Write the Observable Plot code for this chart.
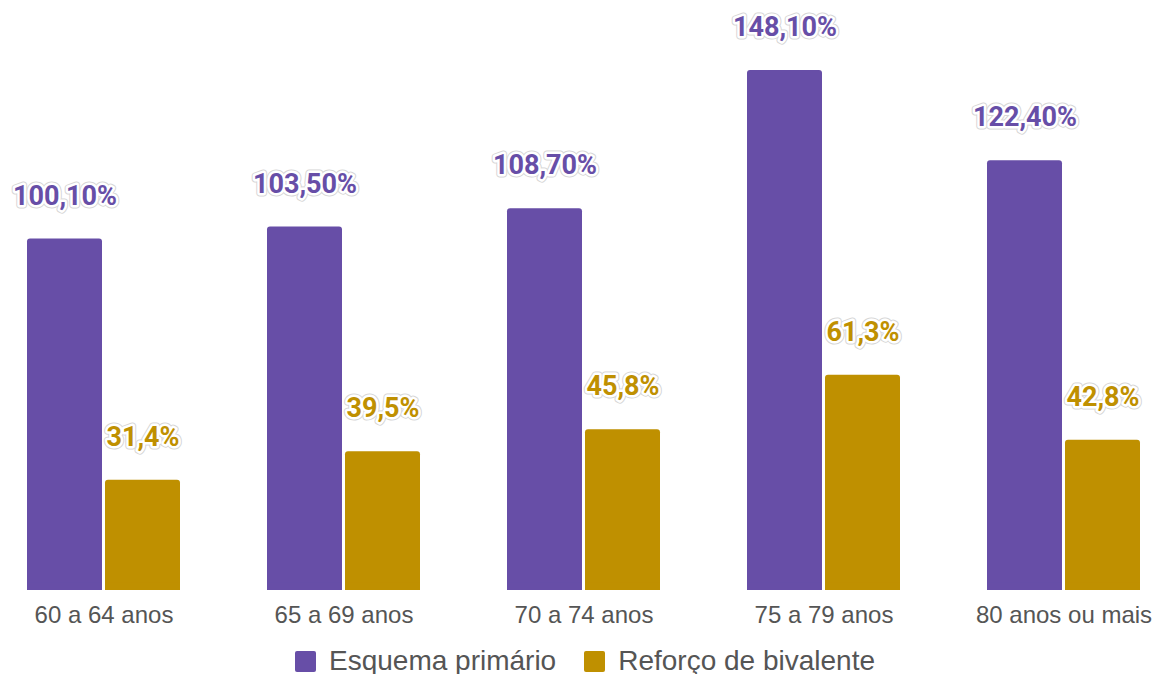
<!DOCTYPE html>
<html>
<head>
<meta charset="utf-8">
<script src="https://cdn.jsdelivr.net/npm/d3@7"></script>
<script src="https://cdn.jsdelivr.net/npm/@observablehq/plot@0.6"></script>
<style>
  html, body { margin: 0; padding: 0; background: #fff; }
  #chart { width: 1156px; }
  #legend { display: flex; justify-content: center; align-items: center; height: 38px; padding-top: 6px; font-family: "Liberation Sans", Arial, sans-serif; font-size: 28px; color: #555; padding-left: 14px; }
  .item { display: flex; align-items: center; margin: 0 14px; }
  .sw { width: 21px; height: 21px; border-radius: 2px; margin-right: 13px; }
</style>
</head>
<body>
<div id="chart"></div>
<div id="legend"></div>
<script>
const groups = ["60 a 64 anos", "65 a 69 anos", "70 a 74 anos", "75 a 79 anos", "80 anos ou mais"];
const series = ["Esquema primário", "Reforço de bivalente"];
const primario = [100.1, 103.5, 108.7, 148.1, 122.4];
const reforco = [31.4, 39.5, 45.8, 61.3, 42.8];
const primarioLabels = ["100,10%", "103,50%", "108,70%", "148,10%", "122,40%"];
const reforcoLabels = ["31,4%", "39,5%", "45,8%", "61,3%", "42,8%"];
const colors = ["#674ea7", "#bf9000"];

const data = [];
groups.forEach((g, i) => {
  data.push({group: g, series: series[0], value: primario[i], label: primarioLabels[i]});
  data.push({group: g, series: series[1], value: reforco[i], label: reforcoLabels[i]});
});

const labelFont = {fontFamily: "Roboto, sans-serif", fontWeight: "bold", fontSize: 27};

const chart = Plot.plot({
  width: 1156,
  height: 636,
  marginTop: 70,
  marginBottom: 46,
  marginLeft: 26,
  marginRight: 16,
  fx: {domain: groups, paddingInner: 0.364, paddingOuter: 0, label: null},
  x: {domain: series, paddingInner: 0.04, paddingOuter: 0, axis: null},
  y: {domain: [0, 148.1], axis: null},
  color: {domain: series, range: colors},
  marks: [
    Plot.barY(data, {fx: "group", x: "series", y: "value", fill: "series", rx: 3}),
    Plot.barY(data, {fx: "group", x: "series", y1: 0, y2: d => Math.min(d.value, 2), fill: "series"}),
    Plot.text(data, {fx: "group", x: "series", y: "value", text: "label", dy: -43, fill: "series",
      stroke: "#d6d6d6", strokeWidth: 7, ...labelFont}),
    Plot.text(data, {fx: "group", x: "series", y: "value", text: "label", dy: -43, fill: "series",
      stroke: "white", strokeWidth: 5, ...labelFont}),
    Plot.axisFx({anchor: "bottom", tickSize: 0, tickPadding: 15, fontSize: 24, fill: "#555", label: null,
      fontFamily: "Liberation Sans, Arial, sans-serif"})
  ]
});
document.getElementById("chart").appendChild(chart);

const legend = document.getElementById("legend");
series.forEach((s, i) => {
  const item = document.createElement("div");
  item.className = "item";
  const sw = document.createElement("div");
  sw.className = "sw";
  sw.style.background = colors[i];
  const t = document.createElement("span");
  t.textContent = s;
  item.appendChild(sw);
  item.appendChild(t);
  legend.appendChild(item);
});
</script>
</body>
</html>
